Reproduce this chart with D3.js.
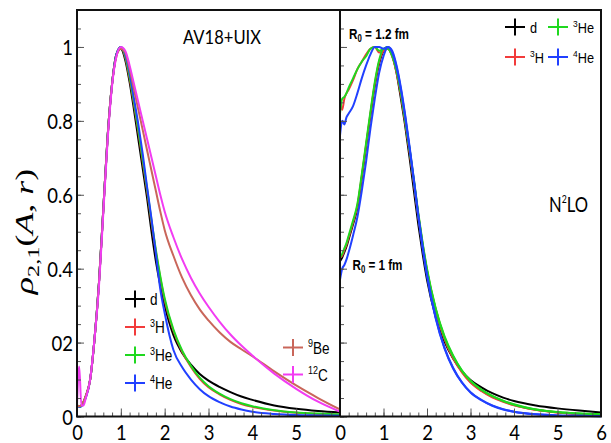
<!DOCTYPE html>
<html><head><meta charset="utf-8">
<script src="https://cdn.jsdelivr.net/npm/d3@7"></script>
<style>body{margin:0;background:#fff}svg{display:block}</style>
</head><body>
<svg id="c" width="611" height="443"></svg>
<script>
// ---------- data ----------
const rGrid = [0, 0.05, 0.1, 0.15, 0.2, 0.3, 0.4, 0.5, 0.6, 0.7, 0.8, 0.9, 1.0, 1.1, 1.2, 1.3, 1.4, 1.5, 1.6, 1.7, 1.8, 1.9, 2.0, 2.2, 2.4, 2.6, 2.8, 3.0, 3.25, 3.5, 3.75, 4.0, 4.5, 5.0, 5.5, 6.0];

// Left panel: AV18+UIX
const av18_d   = [0.03, 0.028, 0.03, 0.04, 0.055, 0.10, 0.21, 0.36, 0.56, 0.76, 0.90, 0.98, 0.995, 0.965, 0.905, 0.83, 0.75, 0.67, 0.59, 0.50, 0.42, 0.355, 0.30, 0.22, 0.172, 0.14, 0.115, 0.097, 0.08, 0.066, 0.054, 0.045, 0.03, 0.021, 0.015, 0.011];
const av18_H3  = [0.03, 0.027, 0.029, 0.039, 0.054, 0.10, 0.21, 0.36, 0.56, 0.76, 0.90, 0.98, 1.0, 0.972, 0.915, 0.845, 0.77, 0.69, 0.61, 0.525, 0.445, 0.375, 0.315, 0.232, 0.175, 0.134, 0.102, 0.079, 0.06, 0.045, 0.034, 0.026, 0.016, 0.01, 0.007, 0.005];
const av18_He3 = [0.03, 0.026, 0.028, 0.038, 0.053, 0.10, 0.21, 0.36, 0.56, 0.76, 0.90, 0.98, 1.0, 0.975, 0.92, 0.85, 0.775, 0.695, 0.615, 0.53, 0.45, 0.38, 0.32, 0.235, 0.178, 0.137, 0.105, 0.082, 0.062, 0.047, 0.036, 0.028, 0.017, 0.011, 0.008, 0.006];
const av18_He4 = [0.03, 0.026, 0.028, 0.037, 0.05, 0.10, 0.21, 0.36, 0.56, 0.76, 0.90, 0.98, 1.0, 0.98, 0.93, 0.86, 0.79, 0.71, 0.62, 0.535, 0.44, 0.345, 0.28, 0.18, 0.133, 0.10, 0.074, 0.055, 0.039, 0.027, 0.019, 0.013, 0.007, 0.004, 0.003, 0.002];
const av18_Be9 = [0.03, 0.028, 0.03, 0.04, 0.055, 0.10, 0.21, 0.36, 0.56, 0.76, 0.90, 0.975, 0.995, 0.985, 0.94, 0.885, 0.83, 0.775, 0.72, 0.665, 0.61, 0.555, 0.505, 0.435, 0.375, 0.328, 0.29, 0.26, 0.228, 0.202, 0.182, 0.163, 0.122, 0.084, 0.05, 0.019];
const av18_C12 = [0.03, 0.135, 0.03, 0.03, 0.05, 0.10, 0.21, 0.35, 0.55, 0.75, 0.895, 0.975, 1.0, 0.99, 0.95, 0.90, 0.85, 0.80, 0.75, 0.70, 0.65, 0.60, 0.555, 0.485, 0.425, 0.375, 0.333, 0.297, 0.257, 0.222, 0.192, 0.165, 0.116, 0.075, 0.04, 0.013];

// Right panel: N2LO, R0 = 1 fm
const n2lo1_d   = [0.42, 0.43, 0.445, 0.46, 0.48, 0.52, 0.565, 0.645, 0.73, 0.815, 0.895, 0.955, 0.99, 1.0, 0.98, 0.93, 0.86, 0.785, 0.70, 0.61, 0.52, 0.44, 0.37, 0.27, 0.203, 0.157, 0.123, 0.099, 0.079, 0.063, 0.051, 0.042, 0.03, 0.022, 0.016, 0.011];
const n2lo1_H3  = [0.43, 0.435, 0.45, 0.465, 0.485, 0.525, 0.57, 0.65, 0.735, 0.82, 0.90, 0.96, 0.99, 0.995, 0.975, 0.93, 0.87, 0.795, 0.715, 0.63, 0.54, 0.46, 0.39, 0.285, 0.21, 0.158, 0.12, 0.092, 0.069, 0.052, 0.04, 0.03, 0.018, 0.011, 0.007, 0.005];
const n2lo1_He3 = [0.43, 0.44, 0.455, 0.47, 0.49, 0.53, 0.575, 0.655, 0.74, 0.825, 0.905, 0.965, 0.995, 0.995, 0.975, 0.935, 0.875, 0.80, 0.72, 0.635, 0.545, 0.465, 0.395, 0.29, 0.215, 0.163, 0.124, 0.096, 0.072, 0.055, 0.042, 0.032, 0.019, 0.012, 0.008, 0.006];
const n2lo1_He4 = [0.37, 0.40, 0.41, 0.425, 0.445, 0.49, 0.54, 0.61, 0.69, 0.78, 0.86, 0.93, 0.975, 1.0, 0.985, 0.945, 0.885, 0.81, 0.725, 0.635, 0.54, 0.455, 0.38, 0.265, 0.185, 0.13, 0.092, 0.065, 0.044, 0.029, 0.019, 0.013, 0.006, 0.003, 0.002, 0.001];

// Right panel: N2LO, R0 = 1.2 fm
const n2lo12_H3  = [0.85, 0.83, 0.86, 0.875, 0.885, 0.91, 0.94, 0.96, 0.98, 0.995, 1.0, 0.985, 0.99, 0.995, 0.975, 0.935, 0.875, 0.80, 0.72, 0.635, 0.545, 0.465, 0.395, 0.29, 0.213, 0.16, 0.121, 0.093, 0.07, 0.053, 0.041, 0.031, 0.018, 0.011, 0.007, 0.005];
const n2lo12_He3 = [0.82, 0.86, 0.865, 0.875, 0.89, 0.915, 0.94, 0.96, 0.975, 0.995, 1.0, 0.99, 0.995, 1.0, 0.98, 0.94, 0.88, 0.805, 0.725, 0.64, 0.55, 0.47, 0.40, 0.293, 0.218, 0.165, 0.125, 0.097, 0.073, 0.056, 0.043, 0.033, 0.019, 0.012, 0.008, 0.006];
const n2lo12_He4 = [0.76, 0.80, 0.79, 0.81, 0.82, 0.84, 0.875, 0.915, 0.95, 0.98, 1.0, 1.0, 0.995, 1.0, 0.99, 0.95, 0.89, 0.815, 0.73, 0.64, 0.545, 0.46, 0.385, 0.268, 0.187, 0.132, 0.093, 0.066, 0.045, 0.03, 0.02, 0.013, 0.006, 0.003, 0.002, 0.001];

const leftNames  = ["d", "3H", "3He", "4He"];
const leftExtraNames = ["9Be", "12C"];
const rightNames = ["d", "3He", "3H", "4He"];

const xTickValues = [0, 1, 2, 3, 4, 5, 6];
const xTickLabelsLeft  = ["0", "1", "2", "3", "4", "5", ""];
const xTickLabelsRight = ["0", "1", "2", "3", "4", "5", "6"];
const yTickValues = [0, 0.2, 0.4, 0.6, 0.8, 1.0];
const yTickLabels = ["0", "02", "0.4", "0.6", "0.8", "1"];

// ---------- styles ----------
const colors = {
  "d": "#000000", "3H": "#f23b3b", "3He": "#1fd81f", "4He": "#2140ff",
  "9Be": "#c9665a", "12C": "#f23cf2"
};

const svg = d3.select("#c");
const y  = d3.scaleLinear().domain([0, 1.1]).range([416.5, 10]);
const xL = d3.scaleLinear().domain([0, 6]).range([77, 340]);
const xR = d3.scaleLinear().domain([0, 6]).range([340, 601]);

function drawCurve(xs, vals, color) {
  const line = d3.line()
    .x((d, i) => xs(rGrid[i]))
    .y(d => y(d))
    .curve(d3.curveMonotoneX);
  svg.append("path").attr("d", line(vals))
    .attr("fill", "none").attr("stroke", color)
    .attr("stroke-width", 2).attr("stroke-linejoin", "round");
}

// ---------- curves ----------
drawCurve(xL, av18_d, colors["d"]);
drawCurve(xL, av18_H3, colors["3H"]);
drawCurve(xL, av18_He3, colors["3He"]);
drawCurve(xL, av18_He4, colors["4He"]);
drawCurve(xL, av18_Be9, colors["9Be"]);
drawCurve(xL, av18_C12, colors["12C"]);

drawCurve(xR, n2lo1_d, colors["d"]);
drawCurve(xR, n2lo1_H3, colors["3H"]);
drawCurve(xR, n2lo12_H3, colors["3H"]);
drawCurve(xR, n2lo1_He3, colors["3He"]);
drawCurve(xR, n2lo12_He3, colors["3He"]);
drawCurve(xR, n2lo1_He4, colors["4He"]);
drawCurve(xR, n2lo12_He4, colors["4He"]);

// ---------- axes ----------
const tickColor = "#555";
function styleAxis(g) {
  g.select(".domain").remove();
  g.selectAll("line").attr("stroke", tickColor);
}
function yAxes(xpos, labels) {
  const minor = d3.axisLeft(y).tickValues(d3.range(0, 1.1001, 0.05)).tickSize(-4).tickFormat("");
  svg.append("g").attr("transform", `translate(${xpos},0)`).call(minor).call(styleAxis);
  const major = d3.axisLeft(y).tickValues(yTickValues).tickSize(-7).tickPadding(4.5)
    .tickFormat((d, i) => labels ? yTickLabels[i] : "");
  const g = svg.append("g").attr("transform", `translate(${xpos},0)`).call(major).call(styleAxis);
  g.selectAll("text").attr("font-family", "Lato, 'Open Sans', sans-serif").attr("font-size", 21)
    .attr("fill", "#000").attr("dy", "0.36em").attr("transform", "scale(0.88,1)");
}
function xAxes(xs, labels) {
  const minor = d3.axisBottom(xs).tickValues(d3.range(0, 6.0001, 0.2)).tickSize(-4).tickFormat("");
  svg.append("g").attr("transform", "translate(0,416.5)").call(minor).call(styleAxis);
  const major = d3.axisBottom(xs).tickValues(xTickValues).tickSize(-8).tickPadding(8.6)
    .tickFormat((d, i) => labels[i]);
  const g = svg.append("g").attr("transform", "translate(0,416.5)").call(major).call(styleAxis);
  g.selectAll("text").attr("font-family", "Lato, 'Open Sans', sans-serif").attr("font-size", 21)
    .attr("fill", "#000").attr("transform", "scale(0.88,1)");
}
yAxes(77, true);
yAxes(340, false);
xAxes(xL, xTickLabelsLeft);
xAxes(xR, xTickLabelsRight);

// frame
svg.append("rect").attr("x", 77).attr("y", 10).attr("width", 524).attr("height", 406.5)
  .attr("fill", "none").attr("stroke", "#111").attr("stroke-width", 2);
svg.append("line").attr("x1", 340).attr("x2", 340).attr("y1", 10).attr("y2", 416.5)
  .attr("stroke", "#111").attr("stroke-width", 2);

// ---------- text helpers ----------
function fitX(t, x, yb, width, anchor) {
  t.attr("text-anchor", anchor || "start");
  const w = t.node().getBBox().width;
  const s = width / w;
  t.attr("transform", `translate(${x},${yb}) scale(${s},1)`);
}
function isoText(parent, name, size, family) {
  const t = parent.append("text").attr("font-family", family).attr("font-size", size).attr("fill", "#000");
  const m = name.match(/^(\d+)(.*)$/);
  if (m) {
    t.append("tspan").attr("font-size", size * 0.66).attr("dy", -size * 0.38).text(m[1]);
    t.append("tspan").attr("dy", size * 0.38).text(m[2]);
  } else {
    t.text(name);
  }
  return t;
}
function cross(cx, cy, color) {
  svg.append("line").attr("x1", cx - 10).attr("x2", cx + 10).attr("y1", cy).attr("y2", cy)
    .attr("stroke", color).attr("stroke-width", 2);
  svg.append("line").attr("x1", cx).attr("x2", cx).attr("y1", cy - 8.5).attr("y2", cy + 8.5)
    .attr("stroke", color).attr("stroke-width", 2);
}

// ---------- legends ----------
const legFont = "'Liberation Sans', Arial, sans-serif";
leftNames.forEach((n, i) => {
  const cy = 299 + i * 28;
  cross(135, cy, colors[n]);
  const t = isoText(svg, n, 16, legFont);
  t.attr("transform", `translate(150,${cy + 6}) scale(0.85,1)`);
});
leftExtraNames.forEach((n, i) => {
  const cy = 347.5 + i * 27;
  cross(293, cy, colors[n]);
  const t = isoText(svg, n, 16, legFont);
  t.attr("transform", `translate(308,${cy + 6}) scale(0.85,1)`);
});
rightNames.forEach((n, i) => {
  const order = [[0, 0], [1, 0], [0, 1], [1, 1]][i];
  const cx = order[0] === 0 ? 515 : 558;
  const cy = order[1] === 0 ? 27 : 57;
  cross(cx, cy, colors[n]);
  const t = isoText(svg, n, 15, legFont);
  t.attr("transform", `translate(${cx + 15},${cy + 6}) scale(0.85,1)`);
});

// ---------- annotations ----------
const av = svg.append("text").attr("font-family", "Lato, sans-serif").attr("font-size", 20).text("AV18+UIX");
fitX(av, 222, 43.5, 78, "middle");

const n2 = svg.append("text").attr("font-family", "Lato, sans-serif").attr("font-size", 21);
n2.append("tspan").text("N");
n2.append("tspan").attr("font-size", 11).attr("dy", -9).text("2");
n2.append("tspan").attr("dy", 9).text("LO");
fitX(n2, 549, 211.5, 39, "start");

function r0Label(val, x, yb, w) {
  const t = svg.append("text").attr("font-family", legFont).attr("font-weight", "bold").attr("font-size", 15);
  t.append("tspan").text("R");
  t.append("tspan").attr("font-size", 10).attr("dy", 3).text("0");
  t.append("tspan").attr("dy", -3).text(" = " + val + " fm");
  fitX(t, x, yb, w, "start");
}
r0Label("1.2", 349, 39, 60);
r0Label("1", 352.5, 270, 50);

// y axis title
const yl = svg.append("text").attr("font-family", "'Liberation Serif', 'DejaVu Serif', serif")
  .attr("font-size", 25).attr("fill", "#000");
yl.append("tspan").attr("font-style", "italic").text("ρ");
yl.append("tspan").attr("font-size", 17).attr("dy", 6).text("2,1");
yl.append("tspan").attr("dy", -6).text("(");
yl.append("tspan").attr("font-style", "italic").text("A");
yl.append("tspan").text(", ");
yl.append("tspan").attr("font-style", "italic").text("r");
yl.append("tspan").text(")");
yl.attr("text-anchor", "middle");
const ylw = yl.node().getBBox().width;
yl.attr("transform", `translate(33,231.5) rotate(-90) scale(${127 / ylw},1)`);
</script>
</body></html>
